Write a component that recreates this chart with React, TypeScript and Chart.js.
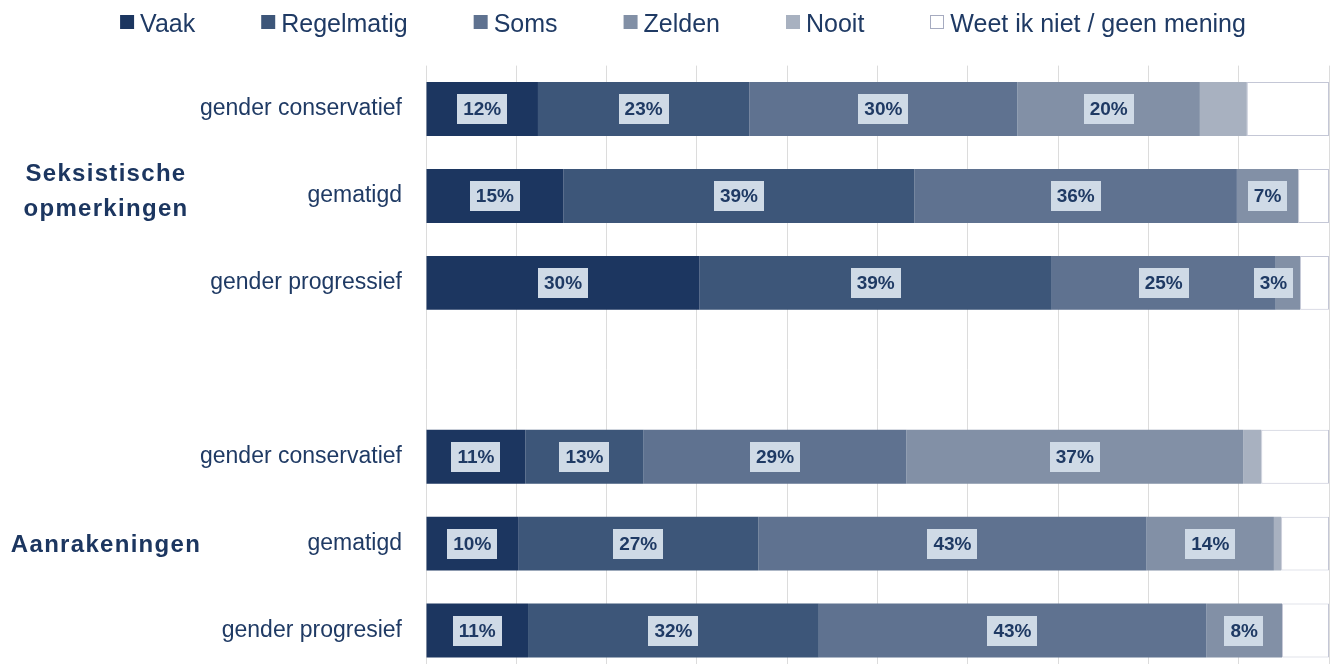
import React, { useEffect, useRef } from "react";
import { Chart, registerables } from "chart.js";

Chart.register(...registerables);

// ---- data ----
const categories = [
  "gender conservatief",
  "gematigd",
  "gender progressief",
  "",
  "gender conservatief",
  "gematigd",
  "gender progresief",
];
const seriesNames = ["Vaak", "Regelmatig", "Soms", "Zelden", "Nooit", "Weet ik niet / geen mening"];
const vaak = [12.4, 15.2, 30.3, null, 11.0, 10.2, 11.3];
const regelmatig = [23.4, 38.9, 39.0, null, 13.1, 26.6, 32.2];
const soms = [29.7, 35.7, 24.8, null, 29.1, 43.0, 42.9];
const zelden = [20.2, 6.8, 2.7, null, 37.3, 14.1, 8.4];
const nooit = [5.2, 0, 0, null, 2.0, 0.8, 0];
const weetNiet = [9.1, 3.4, 3.2, null, 7.5, 5.3, 5.2];
const groupLabels = [
  { lines: ["Seksistische", "opmerkingen"], row: 1 },
  { lines: ["Aanrakeningen"], row: 5 },
];
const labelledSeriesCount = 4;

// ---- style ----
const colors = ["#1c3660", "#3d5679", "#5f7290", "#8290a6", "#a8b1c0", "#ffffff"];
const navy = "#1f3a64";
const labelBox = "#cfdae6";

function hasFont(name: string): boolean {
  const c = document.createElement("canvas").getContext("2d");
  if (!c) return false;
  const t = "Weet ik niet / geen mening 123%";
  c.font = "30px monospace";
  const a = c.measureText(t).width;
  c.font = `30px "${name}", monospace`;
  const b = c.measureText(t).width;
  return Math.abs(a - b) > 0.5;
}

export default function App() {
  const ref = useRef<HTMLCanvasElement | null>(null);

  useEffect(() => {
    const canvas = ref.current;
    if (!canvas) return;
    const narrow = hasFont("Liberation Sans Narrow");
    const legendFont = narrow
      ? '30px "Liberation Sans Narrow", "Liberation Sans", Arial, sans-serif'
      : '25px "Liberation Sans", Arial, sans-serif';
    const valueFont = narrow
      ? 'bold 23px "Liberation Sans Narrow", "Liberation Sans", Arial, sans-serif'
      : 'bold 19px "Liberation Sans", Arial, sans-serif';
    const groupFont = 'bold 24px "Liberation Sans", Arial, sans-serif';

    const seriesData = [vaak, regelmatig, soms, zelden, nooit, weetNiet];

    const customPlugin = {
      id: "custom",
      afterDatasetsDraw(chart: any) {
        const ctx = chart.ctx as CanvasRenderingContext2D;
        ctx.save();
        ctx.font = valueFont;
        ctx.textAlign = "center";
        ctx.textBaseline = "middle";
        for (let d = 0; d < labelledSeriesCount; d++) {
          const meta = chart.getDatasetMeta(d);
          meta.data.forEach((el: any, i: number) => {
            const v = seriesData[d][i];
            if (v == null || v <= 0) return;
            const txt = Math.round(v) + "%";
            const w = ctx.measureText(txt).width + 12;
            const h = 30;
            const left = Math.min(el.x, el.base);
            const right = Math.max(el.x, el.base);
            let cx = (left + right) / 2;
            if (w > right - left - 14) cx = right - 7 - w / 2;
            ctx.fillStyle = labelBox;
            ctx.fillRect(Math.round(cx - w / 2), Math.round(el.y - h / 2), Math.round(w), h);
            ctx.fillStyle = navy;
            ctx.fillText(txt, cx, el.y + 1);
          });
        }
        ctx.restore();
      },
      afterDraw(chart: any) {
        const ctx = chart.ctx as CanvasRenderingContext2D;
        ctx.save();
        ctx.font = groupFont;
        (ctx as any).letterSpacing = "1.3px";
        ctx.fillStyle = "#1c3660";
        ctx.textAlign = "center";
        ctx.textBaseline = "alphabetic";
        const yScale = chart.scales.y;
        groupLabels.forEach((g) => {
          const cy = yScale.getPixelForValue(g.row);
          const n = g.lines.length;
          g.lines.forEach((line, i) => {
            const by = cy + 8 + (i - (n - 1) / 2) * 35 - (n - 1) * 5;
            ctx.fillText(line, 106, by);
          });
        });
        ctx.restore();

        ctx.save();
        ctx.font = legendFont;
        ctx.textAlign = "left";
        ctx.textBaseline = "alphabetic";
        const box = 14;
        const gapBox = 6;
        const gapItem = 66;
        const widths = seriesNames.map((s) => ctx.measureText(s).width);
        const total =
          widths.reduce((a, b) => a + b, 0) + seriesNames.length * (box + gapBox) + gapItem * (seriesNames.length - 1);
        let x = 683 - total / 2;
        seriesNames.forEach((s, i) => {
          if (i === seriesNames.length - 1) {
            ctx.fillStyle = "#ffffff";
            ctx.fillRect(x, 15, box, box);
            ctx.strokeStyle = "#a6abc0";
            ctx.lineWidth = 1;
            ctx.strokeRect(Math.round(x) + 0.5, 15.5, box - 1, box - 1);
          } else {
            ctx.fillStyle = colors[i];
            ctx.fillRect(x, 15, box, box);
          }
          ctx.fillStyle = navy;
          ctx.fillText(s, x + box + gapBox, 32);
          x += box + gapBox + widths[i] + gapItem;
        });
        ctx.restore();
      },
    };

    const chart = new Chart(canvas, {
      type: "bar",
      data: {
        labels: categories,
        datasets: seriesNames.map((name, i) => ({
          label: name,
          data: seriesData[i] as any,
          backgroundColor: colors[i],
          borderColor: i === 5 ? "#c4c7d6" : colors[i],
          borderWidth: i === 5 ? 1 : 0,
          borderSkipped: false,
          barPercentage: 0.621,
          categoryPercentage: 1,
        })),
      },
      options: {
        indexAxis: "y",
        animation: false,
        responsive: false,
        devicePixelRatio: 1,
        layout: { padding: { top: 65.6, right: 1, left: 0, bottom: 0 } },
        plugins: {
          legend: { display: false },
          tooltip: { enabled: false },
        },
        scales: {
          x: {
            stacked: true,
            min: 0,
            max: 100,
            ticks: { display: false, stepSize: 10 },
            grid: { color: "#dcdcdc", lineWidth: 1, drawTicks: false },
            border: { display: false },
            afterFit: (s: any) => {
              s.height = 0;
              s.paddingTop = 0;
              s.paddingBottom = 0;
            },
          },
          y: {
            stacked: true,
            ticks: {
              color: navy,
              font: { family: '"Liberation Sans", Arial, sans-serif', size: 23 },
              padding: 24,
            },
            grid: { display: false, drawTicks: false },
            border: { display: false },
            afterFit: (s: any) => {
              s.width = 426;
              s.paddingTop = 0;
              s.paddingBottom = 0;
            },
          },
        },
      } as any,
      plugins: [customPlugin],
    });

    return () => chart.destroy();
  }, []);

  return (
    <div style={{ position: "fixed", left: 0, top: 0, width: 1330, height: 674, background: "#fff" }}>
      <canvas ref={ref} width={1330} height={674} style={{ display: "block", width: 1330, height: 674 }} />
    </div>
  );
}
